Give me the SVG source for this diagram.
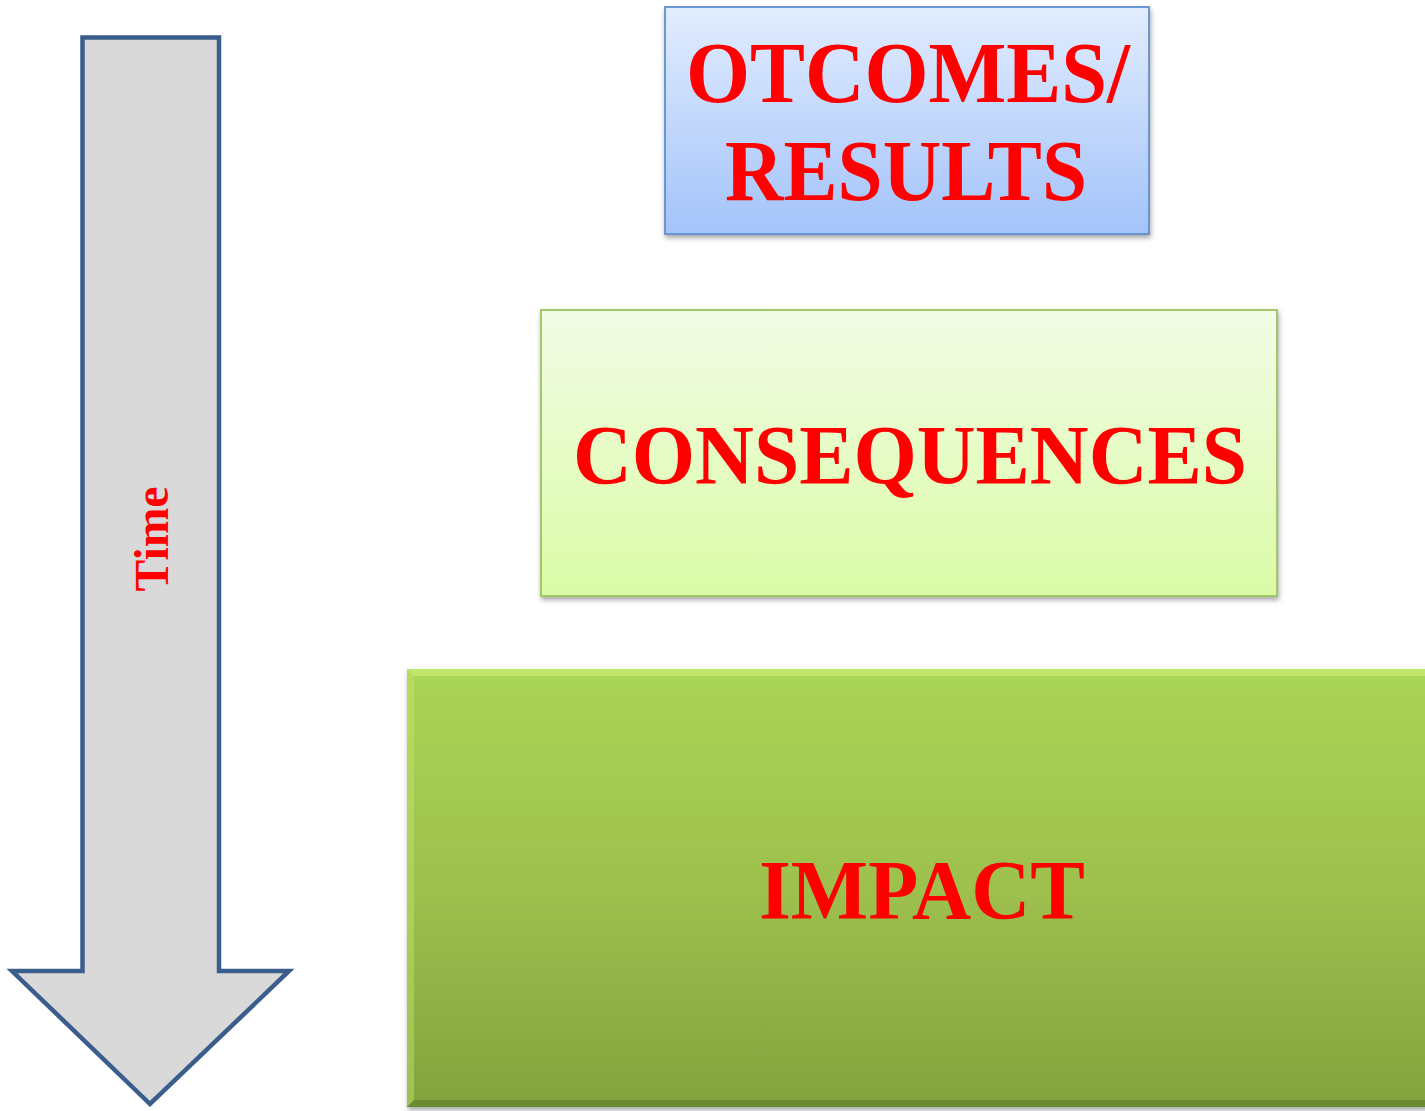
<svg xmlns="http://www.w3.org/2000/svg" width="1425" height="1111" viewBox="0 0 1425 1111">
<style>
.lbl{font-family:"Liberation Serif","Times New Roman",serif;font-weight:bold;fill:#ff0000;text-anchor:middle}
</style>
<defs>
<linearGradient id="gBlue" x1="0" y1="0" x2="0" y2="1">
<stop offset="0" stop-color="#e2edfe"/>
<stop offset="1" stop-color="#a3c3fa"/>
</linearGradient>
<linearGradient id="gLight" x1="0" y1="0" x2="0" y2="1">
<stop offset="0" stop-color="#f2fce6"/>
<stop offset="1" stop-color="#dafba6"/>
</linearGradient>
<linearGradient id="gGreen" x1="0" y1="0" x2="0" y2="1">
<stop offset="0" stop-color="#aad555"/>
<stop offset="0.5" stop-color="#9ec04e"/>
<stop offset="1" stop-color="#82a33d"/>
</linearGradient>
<filter id="sh" x="-5%" y="-5%" width="110%" height="115%">
<feDropShadow dx="1" dy="3" stdDeviation="2.5" flood-color="#000" flood-opacity="0.35"/>
</filter>
</defs>
<rect width="1425" height="1111" fill="#ffffff"/>

<g id="time-arrow">
<path d="M82.5,37.5 H219 V971 H289 L150,1104 L12,971 H82.5 Z" fill="#d9d9d9" stroke="#3a5e8c" stroke-width="4.5" stroke-linejoin="miter"/>
<text class="lbl" x="168" y="539" font-size="48" transform="rotate(-90 168 539)" textLength="105" lengthAdjust="spacingAndGlyphs">Time</text>
</g>

<g id="outcomes">
<rect x="665" y="7" width="484" height="227" fill="url(#gBlue)" stroke="#5f8fd0" stroke-width="1.8" filter="url(#sh)"/>
<text class="lbl" x="908" y="102" font-size="86" textLength="444" lengthAdjust="spacingAndGlyphs">OTCOMES/</text>
<text class="lbl" x="906" y="200" font-size="86" textLength="362" lengthAdjust="spacingAndGlyphs">RESULTS</text>
</g>

<g id="consequences">
<rect x="541" y="310" width="736" height="286" fill="url(#gLight)" stroke="#9cc35f" stroke-width="1.8" filter="url(#sh)"/>
<text class="lbl" x="910" y="484" font-size="85" textLength="674" lengthAdjust="spacingAndGlyphs">CONSEQUENCES</text>
</g>

<g id="impact">
<rect x="407" y="669" width="1030" height="438" fill="url(#gGreen)" filter="url(#sh)"/>
<path d="M407,669 H1437 L1430,676 H414 Z" fill="#d2f07a" opacity="0.6"/>
<path d="M407,669 L414,676 V1100 L407,1107 Z" fill="#c4e46c" opacity="0.45"/>
<path d="M407,1107 L414,1100 H1437 V1107 Z" fill="#5d7a2a" opacity="0.6"/>
<text class="lbl" x="922" y="919" font-size="85" textLength="326" lengthAdjust="spacingAndGlyphs">IMPACT</text>
</g>

<g id="connectors"></g>
</svg>
